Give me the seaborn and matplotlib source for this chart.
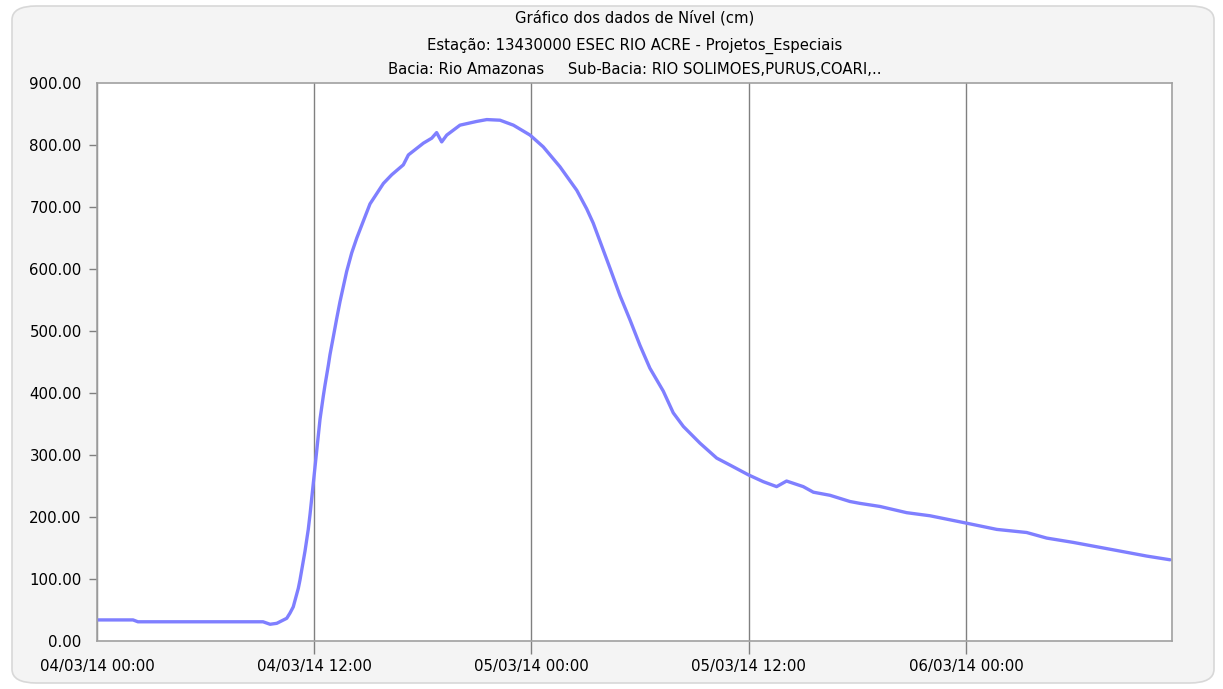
import matplotlib
matplotlib.use("Agg")
import matplotlib.pyplot as plt
import matplotlib.dates as mdates
from matplotlib.patches import FancyBboxPatch
import seaborn as sns
import pandas as pd
import numpy as np

# Hours since 04/03/14 00:00 and level (cm)
hours = [0.0, 1.99, 2.26, 9.17, 9.56, 9.93, 10.48, 10.66, 10.84, 11.12, 11.21, 11.49,
         11.67, 11.77, 11.95, 12.14, 12.32, 12.50, 12.59, 12.78, 12.87, 13.05, 13.24,
         13.42, 13.79, 14.07, 14.35, 14.80, 15.08, 15.82, 16.28, 16.92, 17.20, 18.03,
         18.49, 18.76, 19.04, 19.32, 20.05, 20.97, 21.53, 22.26, 23.00, 23.92, 24.65,
         25.57, 26.50, 27.05, 27.41, 27.78, 28.34, 28.89, 29.44, 29.99, 30.54, 30.92,
         31.28, 31.83, 32.39, 33.31, 34.23, 34.95, 35.98, 36.80, 37.54, 38.09, 39.01,
         39.57, 40.49, 41.59, 42.14, 43.25, 44.72, 46.01, 48.04, 49.70, 51.35, 52.46,
         53.93, 56.33, 57.98, 59.27]
levels = [34, 34, 31, 31, 27, 28.5, 36.6, 45, 55, 85, 98, 145,
          180, 205, 255, 308, 358, 395, 412, 445, 462, 490, 520,
          547, 596, 626, 650, 684, 705, 738, 752, 768, 784, 803,
          811, 820, 805, 816, 832, 838, 841, 840, 832, 816, 797,
          765, 727, 697, 674, 645, 601, 557, 518, 477, 440, 421,
          403, 368, 346, 319, 295, 284, 268, 257, 249, 258, 249,
          240, 235, 225, 222, 217, 207, 202, 190, 180, 175, 166,
          159, 146, 137, 131]

title_lines = ["Gráfico dos dados de Nível (cm)",
               "Estação: 13430000 ESEC RIO ACRE - Projetos_Especiais",
               "Bacia: Rio Amazonas     Sub-Bacia: RIO SOLIMOES,PURUS,COARI,.."]
y_ticks = [0, 100, 200, 300, 400, 500, 600, 700, 800, 900]

start = pd.Timestamp("2014-03-04 00:00")
df = pd.DataFrame({"time": start + pd.to_timedelta(hours, unit="h"), "level": levels})

sns.set_style("white")
plt.rcParams["font.family"] = ["DejaVu Sans"]

fig = plt.figure(figsize=(12.23, 6.89), dpi=100)
fig.patch.set_facecolor("white")
bg = FancyBboxPatch((12 / 1223, 6 / 689), 1202 / 1223, 677 / 689,
                    boxstyle="round,pad=0,rounding_size=0.02",
                    transform=fig.transFigure, facecolor="#f4f4f4",
                    edgecolor="#d8d8d8", linewidth=1.2, zorder=-10)
fig.patches.append(bg)

ax = fig.add_axes([97 / 1223, (689 - 641) / 689, (1172 - 97) / 1223, (641 - 83) / 689])
ax.set_facecolor("white")
sns.lineplot(data=df, x="time", y="level", ax=ax, color="#7f7fff", linewidth=2.4)

ax.set_xlim(start, start + pd.Timedelta(hours=59.38))
ax.set_ylim(0, 900)
ax.set_yticks(y_ticks)
ax.yaxis.set_major_formatter(matplotlib.ticker.FuncFormatter(lambda v, p: f"{v:.2f}"))
ax.xaxis.set_major_locator(mdates.HourLocator(byhour=[0, 12]))
ax.xaxis.set_major_formatter(mdates.DateFormatter("%d/%m/%y %H:%M"))
ax.grid(axis="x", color="#808080", linewidth=1)
ax.grid(axis="y", visible=False)
ax.set_xlabel("")
ax.set_ylabel("")
for s in ax.spines.values():
    s.set_color("#a0a0a0")
    s.set_linewidth(1.2)
ax.tick_params(axis="x", direction="out", length=9, width=1, color="#808080",
               labelsize=10.8, pad=4, labelcolor="#000000")
ax.tick_params(axis="y", direction="out", length=6, width=1, color="#808080",
               labelsize=10.8, pad=5, labelcolor="#000000")
ax.tick_params(bottom=True, left=True)

fig.canvas.draw()
xt = ax.xaxis.get_major_ticks()
if xt:
    xt[0].tick1line.set_visible(False)
yt = ax.yaxis.get_major_ticks()
if yt:
    yt[-1].tick1line.set_visible(False)
    yt[0].tick1line.set_visible(False)

cx = (97 + 1172) / 2 / 1223
for i, (t, yy) in enumerate(zip(title_lines, [18, 46, 70])):
    fig.text(cx, 1 - yy / 689, t, ha="center", va="center", fontsize=10.7, color="#000000")

fig.savefig("out.png", dpi=100, facecolor=fig.get_facecolor())
